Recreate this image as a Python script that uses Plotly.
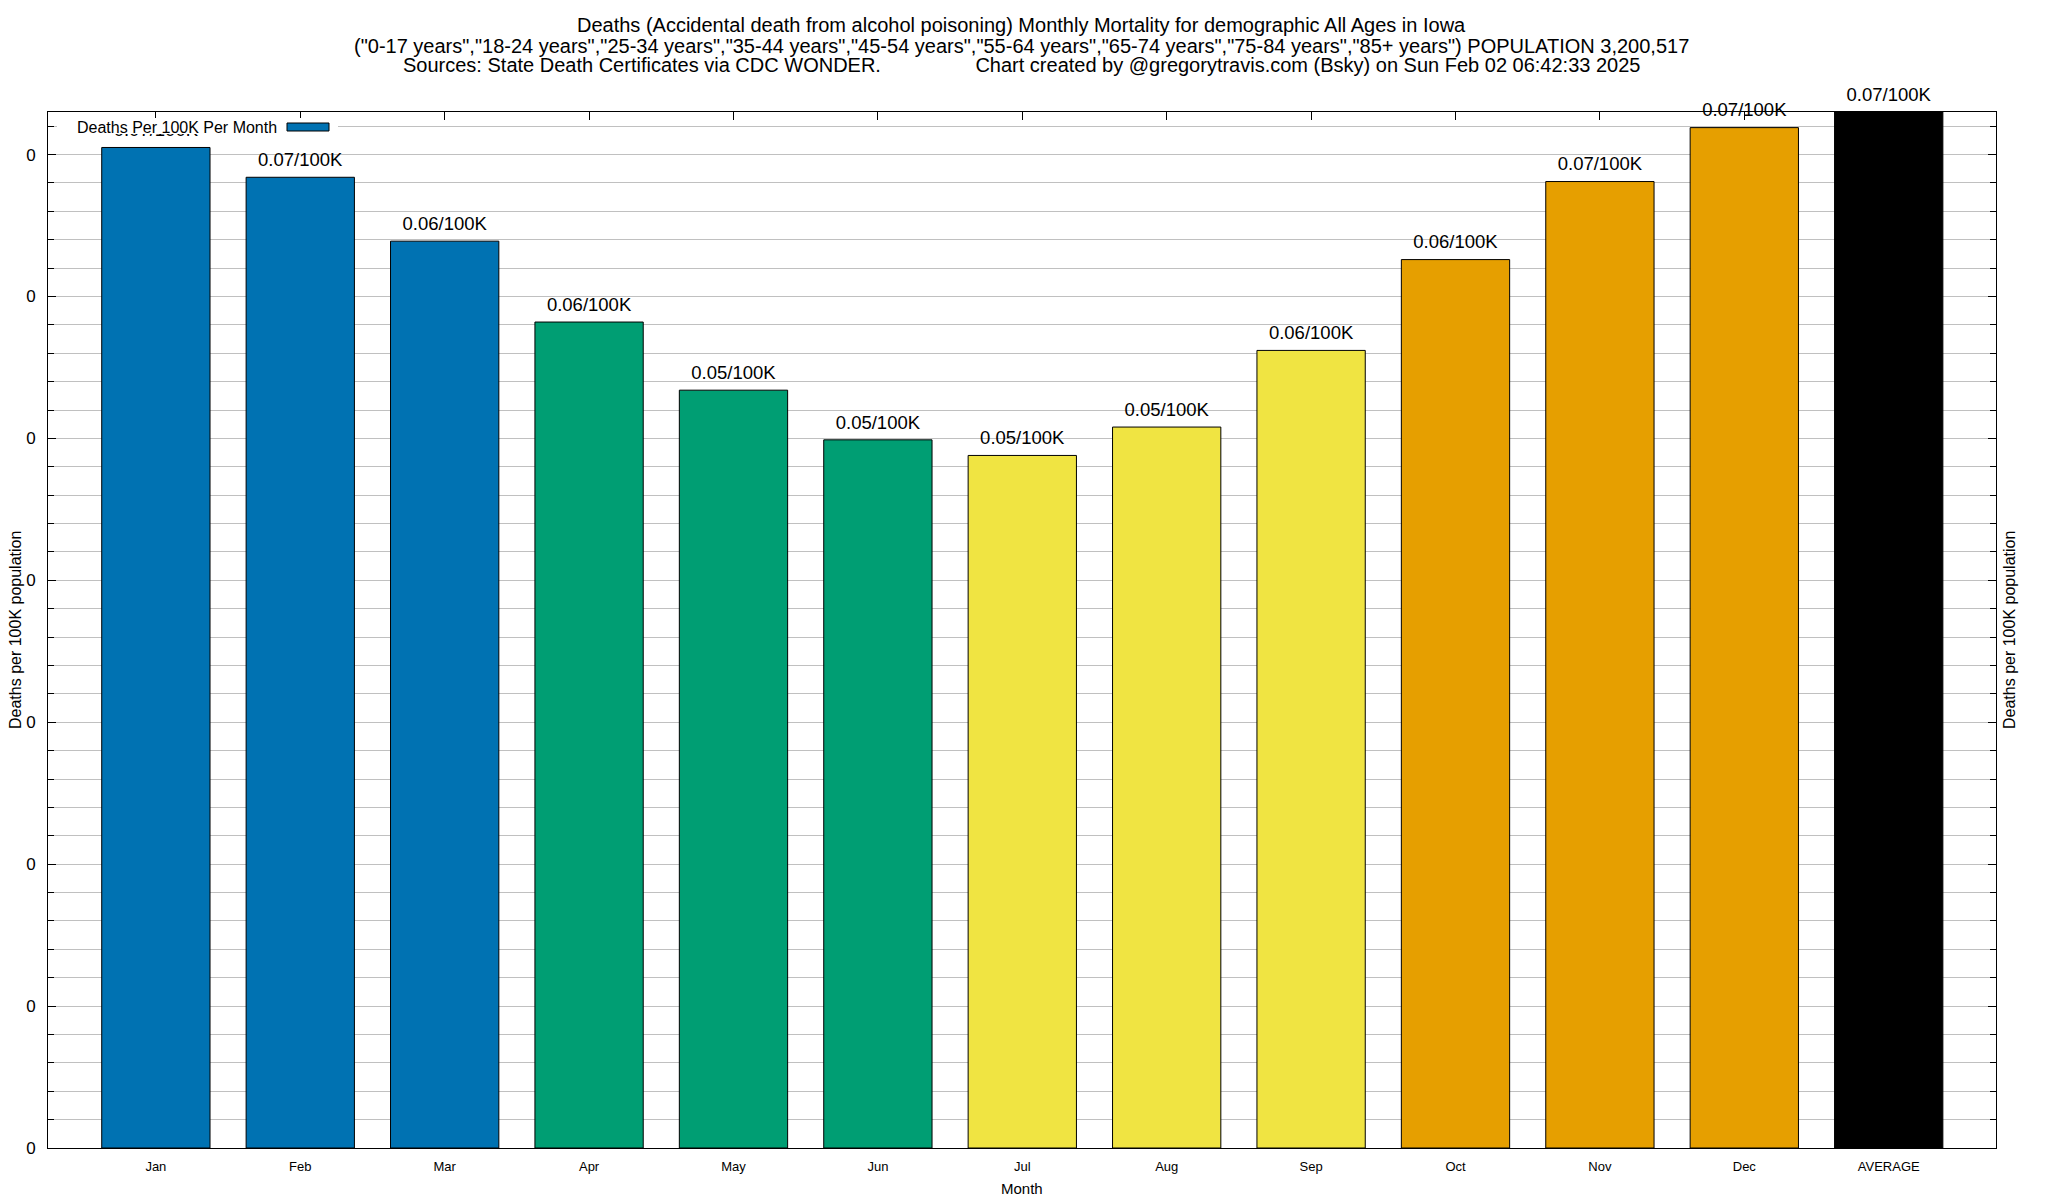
import plotly.graph_objects as go

# ---- data ----
months = ["Jan", "Feb", "Mar", "Apr", "May", "Jun", "Jul", "Aug", "Sep", "Oct", "Nov", "Dec", "AVERAGE"]
rates = [0.0705, 0.0684, 0.0639, 0.0582, 0.0534, 0.0499, 0.0488, 0.0508, 0.0562, 0.0626, 0.0681, 0.0719, 0.0730]
labels = ["0.07/100K", "0.07/100K", "0.06/100K", "0.06/100K", "0.05/100K", "0.05/100K", "0.05/100K",
          "0.05/100K", "0.06/100K", "0.06/100K", "0.07/100K", "0.07/100K", "0.07/100K"]
bar_colors = ["#0072B2"] * 3 + ["#009E73"] * 3 + ["#F0E442"] * 3 + ["#E69F00"] * 3 + ["#000000"]
y_ticks = [0, 0.01, 0.02, 0.03, 0.04, 0.05, 0.06, 0.07]
series_name = "Deaths Per 100K Per Month"
title_lines = [
    "Deaths (Accidental death from alcohol poisoning) Monthly Mortality for demographic All Ages in Iowa",
    '("0-17 years","18-24 years","25-34 years","35-44 years","45-54 years","55-64 years","65-74 years","75-84 years","85+ years") POPULATION 3,200,517',
    "Sources: State Death Certificates via CDC WONDER.                 Chart created by @gregorytravis.com (Bsky) on Sun Feb 02 06:42:33 2025",
]

# ---- layout geometry (pixels) ----
W, H = 2048, 1200
L, R, T, B = 48, 52, 112, 52
PW, PH = W - L - R, H - T - B
FONT = "Liberation Sans, Arial, Helvetica, sans-serif"


def px_x(p):
    return (p - L) / PW


def px_y(p):
    return (H - B - p) / PH


xs = list(range(len(months)))

fig = go.Figure()
fig.add_trace(go.Bar(
    x=xs, y=rates, width=0.75, name=series_name,
    marker=dict(color=bar_colors, line=dict(color="black", width=1)),
    showlegend=False, hoverinfo="skip",
))
fig.add_trace(go.Scatter(
    x=xs, y=rates, mode="markers+text", text=labels, textposition="top center",
    marker=dict(size=9, color="rgba(0,0,0,0)"),
    textfont=dict(family=FONT, size=18.5, color="black"),
    cliponaxis=False, showlegend=False, hoverinfo="skip",
))

annotations = []
for txt, ypx in zip(title_lines, [25, 46, 65]):
    annotations.append(dict(text=txt, xref="paper", yref="paper", x=px_x(1021), y=px_y(ypx),
                            xanchor="center", yanchor="middle", showarrow=False,
                            font=dict(family=FONT, size=20, color="black")))
annotations += [
    dict(text="Month", xref="paper", yref="paper", x=0.5, y=px_y(1188), xanchor="center", yanchor="middle",
         showarrow=False, font=dict(family=FONT, size=15, color="black")),
    dict(text="Deaths per 100K population", xref="paper", yref="paper", x=px_x(15), y=0.5, textangle=-90,
         xanchor="center", yanchor="middle", showarrow=False, font=dict(family=FONT, size=16, color="black")),
    dict(text="Deaths per 100K population", xref="paper", yref="paper", x=px_x(2009), y=0.5, textangle=-90,
         xanchor="center", yanchor="middle", showarrow=False, font=dict(family=FONT, size=16, color="black")),
    dict(text=series_name, xref="paper", yref="paper", x=px_x(279), y=px_y(127.5), xanchor="right",
         yanchor="middle", showarrow=False, font=dict(family=FONT, size=16, color="black")),
]

shapes = [
    dict(type="rect", xref="paper", yref="paper", x0=px_x(57), x1=px_x(338), y0=px_y(134), y1=px_y(118),
         fillcolor="white", line=dict(width=0), layer="above"),
    dict(type="rect", xref="paper", yref="paper", x0=px_x(287), x1=px_x(329), y0=px_y(131), y1=px_y(123),
         fillcolor=bar_colors[0], line=dict(color="black", width=1), layer="above"),
]

fig.update_layout(
    width=W, height=H, margin=dict(l=L, r=R, t=T, b=B, autoexpand=False),
    paper_bgcolor="white", plot_bgcolor="white",
    font=dict(family=FONT, color="black"),
    annotations=annotations, shapes=shapes, showlegend=False,
)
fig.update_xaxes(
    range=[-0.747, 12.743], tickmode="array", tickvals=xs, ticktext=months,
    ticks="inside", ticklen=8, tickcolor="black", showline=True, linecolor="black", linewidth=1,
    mirror="ticks", showgrid=False, zeroline=False, layer="below traces",
    tickfont=dict(family=FONT, size=13, color="black"), ticklabelstandoff=6,
)
fig.update_yaxes(
    range=[0, rates[-1]], tickmode="array", tickvals=y_ticks, tickformat=".0f",
    ticks="inside", ticklen=8, tickcolor="black", showline=True, linecolor="black", linewidth=1,
    mirror="ticks", showgrid=True, gridcolor="#c0c0c0", gridwidth=1, zeroline=False, layer="below traces",
    minor=dict(dtick=0.002, showgrid=True, gridcolor="#c0c0c0", gridwidth=1, ticks="inside", ticklen=6,
               tickcolor="black"),
    tickfont=dict(family=FONT, size=17, color="black"), ticklabelstandoff=8,
)

fig.write_html("out.html", config={"displayModeBar": False},
               post_script="document.body.style.margin='0';document.body.style.overflow='hidden';")
